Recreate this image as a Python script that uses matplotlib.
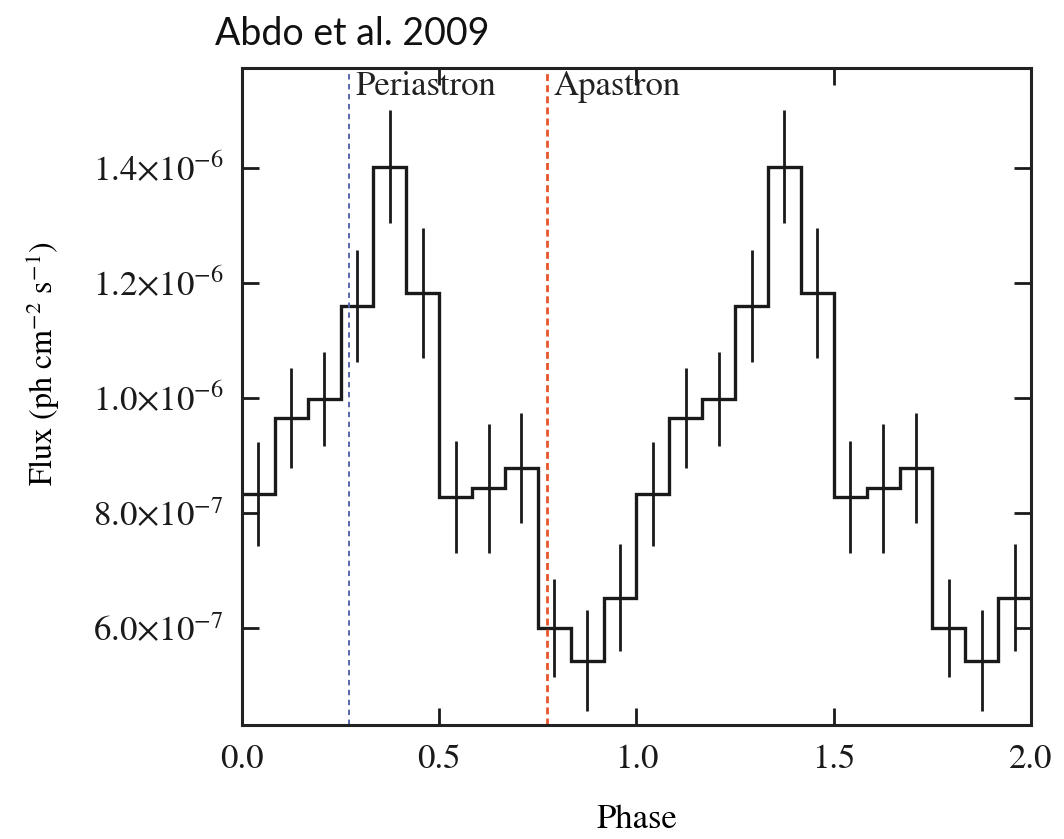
import numpy as np
import matplotlib
matplotlib.use("Agg")
import matplotlib.pyplot as plt

# ---- data (flux in units of 1e-6 ph cm^-2 s^-1), 12 phase bins, shown twice ----
phase_bins_per_cycle = 12
flux_cycle = [0.833, 0.965, 0.998, 1.160, 1.402, 1.183, 0.828, 0.843, 0.878, 0.600, 0.543, 0.652]
err_cycle = [0.090, 0.087, 0.082, 0.097, 0.098, 0.113, 0.097, 0.112, 0.095, 0.085, 0.088, 0.093]
n_cycles = 2
periastron_phase = 0.272
apastron_phase = 0.774
yticks = [0.6e-6, 0.8e-6, 1.0e-6, 1.2e-6, 1.4e-6]
yticklabels = [r'$6.0{\times}10^{-7}$', r'$8.0{\times}10^{-7}$', r'$1.0{\times}10^{-6}$',
               r'$1.2{\times}10^{-6}$', r'$1.4{\times}10^{-6}$']
xticks = [0.0, 0.5, 1.0, 1.5, 2.0]
xticklabels = ['0.0', '0.5', '1.0', '1.5', '2.0']

flux = np.tile(np.array(flux_cycle) * 1e-6, n_cycles)
err = np.tile(np.array(err_cycle) * 1e-6, n_cycles)
edges = np.linspace(0, n_cycles, phase_bins_per_cycle * n_cycles + 1)
centers = 0.5 * (edges[:-1] + edges[1:])

plt.rcParams['font.family'] = ['STIXGeneral', 'Liberation Serif', 'DejaVu Serif']
plt.rcParams['mathtext.fontset'] = 'stix'

fig = plt.figure(figsize=(10.64, 8.39), dpi=100)
ax = fig.add_axes([0.2274, 0.1359, 0.9690 - 0.2274, 0.9190 - 0.1359])

ax.stairs(flux, edges, color='#1a1a1a', linewidth=2.4, baseline=None)
ax.errorbar(centers, flux, yerr=err, fmt='none', ecolor='#1a1a1a', elinewidth=2.0, capsize=0)

ax.axvline(periastron_phase, color='#4a5ca8', linestyle=(0, (3, 2.5)), linewidth=1.3)
ax.axvline(apastron_phase, color='#e8552a', linestyle=(0, (2.5, 1.5)), linewidth=2.0)

ax.text(periastron_phase + 0.015, 1.568e-6, 'Periastron', fontsize=25, va='top', ha='left', color='#222222')
ax.text(apastron_phase + 0.015, 1.568e-6, 'Apastron', fontsize=25, va='top', ha='left', color='#222222')

ax.set_xlim(0, 2)
ax.set_ylim(0.431e-6, 1.574e-6)
ax.set_xticks(xticks)
ax.set_xticklabels(xticklabels)
ax.set_yticks(yticks)
ax.set_yticklabels(yticklabels)
ax.tick_params(axis='both', direction='in', length=12, width=2, labelsize=25,
               top=True, right=True, colors='#1a1a1a')
ax.tick_params(axis='x', pad=14)
ax.tick_params(axis='y', pad=13)
for s in ax.spines.values():
    s.set_linewidth(2.2)
    s.set_color('#222222')

ax.set_xlabel('Phase', fontsize=25, labelpad=20)
ax.set_ylabel(r'Flux (ph cm$^{-2}$ s$^{-1}$)', fontsize=23)
ax.yaxis.set_label_coords(-0.228, 0.55)

fig.text(215 / 1064, 1 - 45 / 839, 'Abdo et al. 2009', fontsize=27, family='Lato',
         fontweight='normal', ha='left', va='baseline', color='#111111')

fig.savefig('out.png', dpi=100)
